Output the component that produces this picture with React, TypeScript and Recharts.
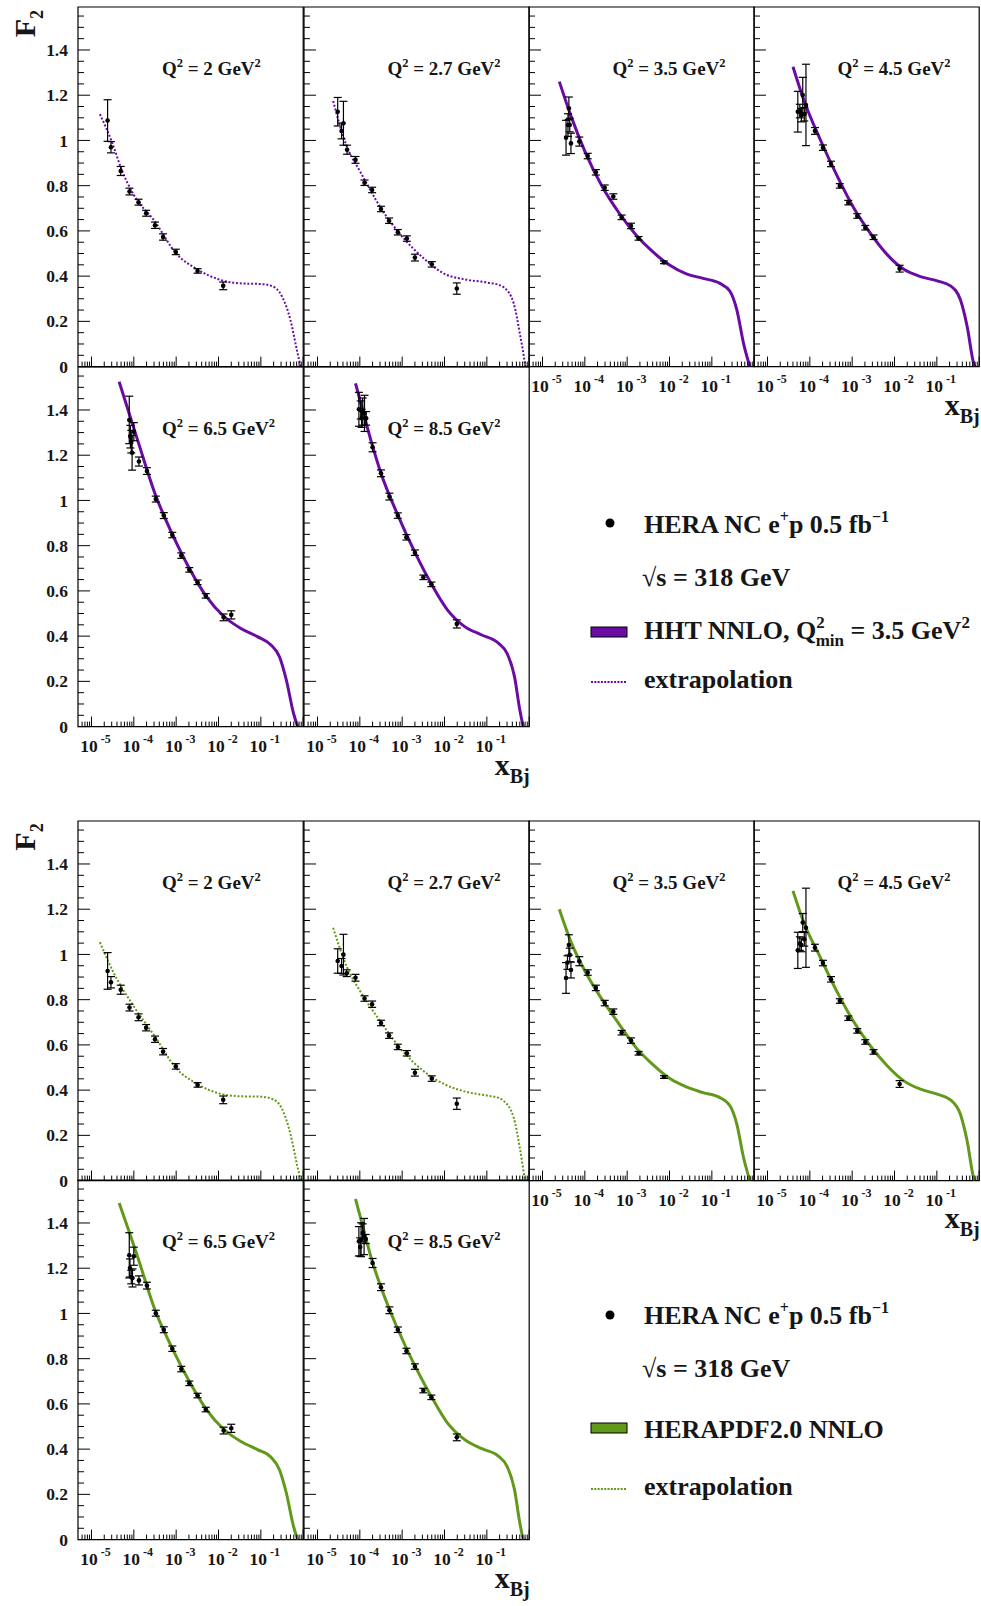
import { ComposedChart, ErrorBar, Line, ReferenceArea, Scatter, XAxis, YAxis } from "recharts";

// axis ranges
const X_MIN = 4.8e-6;
const X_MAX = 1;
const Y_MAX = 1.59;

const X_DECADES = [1e-5, 1e-4, 1e-3, 1e-2, 1e-1];
const X_DECADE_LABELS = ["-5", "-4", "-3", "-2", "-1"];
const X_MINOR_STEPS = [2, 3, 4, 5, 6, 7, 8, 9];
const X_EDGE_TICKS = [6e-6, 7e-6, 8e-6, 9e-6, 1];
const Y_MAJOR = [0, 0.2, 0.4, 0.6, 0.8, 1, 1.2, 1.4];
const Y_LABELS = ["0", "0.2", "0.4", "0.6", "0.8", "1", "1.2", "1.4"];
const Y_MINOR_OFFSETS = [0.05, 0.1, 0.15];

const Q2_LABELS = ["2", "2.7", "3.5", "4.5", "6.5", "8.5"];

// [x, F2, error] — HHT block (top)
const DATA_A_Q2_2 = [
    [2.4e-5, 1.088, 0.092], [2.88e-5, 0.97, 0.025], [4.9e-5, 0.865, 0.02], [7.9e-5, 0.774, 0.015],
    [1.29e-4, 0.727, 0.013], [1.95e-4, 0.678, 0.013], [3.16e-4, 0.625, 0.014], [4.9e-4, 0.573, 0.014],
    [9.8e-4, 0.507, 0.012], [3.2e-3, 0.423, 0.01], [1.29e-2, 0.357, 0.017],
];
const DATA_A_Q2_27 = [
    [3.0e-5, 1.127, 0.063], [3.7e-5, 1.042, 0.035], [4.1e-5, 1.076, 0.097], [5.0e-5, 0.959, 0.02],
    [7.9e-5, 0.914, 0.015], [1.29e-4, 0.813, 0.012], [1.95e-4, 0.781, 0.012], [3.16e-4, 0.697, 0.012],
    [4.9e-4, 0.645, 0.012], [7.9e-4, 0.594, 0.012], [1.29e-3, 0.566, 0.012], [2.0e-3, 0.482, 0.015],
    [5.0e-3, 0.452, 0.012], [1.95e-2, 0.345, 0.025],
];
const DATA_A_Q2_35 = [
    [3.6e-5, 1.012, 0.077], [4.0e-5, 1.068, 0.05], [4.2e-5, 1.142, 0.05], [4.4e-5, 1.068, 0.03],
    [4.7e-5, 0.987, 0.045], [7.4e-5, 0.995, 0.02], [1.17e-4, 0.931, 0.012], [1.82e-4, 0.859, 0.012],
    [2.95e-4, 0.791, 0.012], [4.7e-4, 0.752, 0.012], [7.4e-4, 0.66, 0.01], [1.23e-3, 0.622, 0.012],
    [1.86e-3, 0.567, 0.008], [7.4e-3, 0.461, 0.006],
];
const DATA_A_Q2_45 = [
    [5.2e-5, 1.127, 0.09], [5.8e-5, 1.13, 0.03], [6.3e-5, 1.112, 0.03], [6.8e-5, 1.201, 0.078],
    [7.4e-5, 1.116, 0.03], [8.1e-5, 1.157, 0.18], [1.32e-4, 1.042, 0.015], [2.04e-4, 0.968, 0.012],
    [3.16e-4, 0.896, 0.012], [5.1e-4, 0.799, 0.01], [8.1e-4, 0.725, 0.01], [1.32e-3, 0.666, 0.01],
    [2.04e-3, 0.614, 0.01], [3.2e-3, 0.572, 0.01], [1.32e-2, 0.433, 0.015],
];
const DATA_A_Q2_65 = [
    [7.8e-5, 1.356, 0.105], [8.3e-5, 1.282, 0.05], [8.7e-5, 1.26, 0.05], [9.1e-5, 1.211, 0.077],
    [1.0e-4, 1.304, 0.04], [1.32e-4, 1.172, 0.02], [2.04e-4, 1.13, 0.015], [3.3e-4, 1.006, 0.013],
    [5.1e-4, 0.933, 0.013], [8.1e-4, 0.847, 0.012], [1.32e-3, 0.756, 0.012], [2.04e-3, 0.693, 0.01],
    [3.2e-3, 0.638, 0.01], [5.0e-3, 0.578, 0.01], [1.32e-2, 0.483, 0.015], [2.0e-2, 0.494, 0.018],
];
const DATA_A_Q2_85 = [
    [9.5e-5, 1.403, 0.075], [1.05e-4, 1.4, 0.04], [1.1e-4, 1.363, 0.04], [1.17e-4, 1.393, 0.06],
    [1.29e-4, 1.385, 0.08], [1.41e-4, 1.363, 0.03], [2.0e-4, 1.235, 0.02], [3.16e-4, 1.12, 0.015],
    [5.0e-4, 1.017, 0.015], [7.9e-4, 0.933, 0.012], [1.26e-3, 0.837, 0.012], [2.0e-3, 0.769, 0.012],
    [3.16e-3, 0.66, 0.01], [4.9e-3, 0.629, 0.01], [1.95e-2, 0.454, 0.018],
];

// [x, F2, error] — HERAPDF block (bottom)
const DATA_B_Q2_2 = [
    [2.4e-5, 0.927, 0.081], [2.88e-5, 0.877, 0.025], [4.9e-5, 0.844, 0.02], [7.9e-5, 0.765, 0.015],
    [1.29e-4, 0.722, 0.015], [1.95e-4, 0.676, 0.014], [3.16e-4, 0.625, 0.014], [4.9e-4, 0.57, 0.014],
    [9.8e-4, 0.505, 0.012], [3.2e-3, 0.423, 0.01], [1.29e-2, 0.357, 0.017],
];
const DATA_B_Q2_27 = [
    [3.0e-5, 0.971, 0.054], [3.7e-5, 0.949, 0.033], [4.1e-5, 0.999, 0.09], [4.9e-5, 0.917, 0.015],
    [7.9e-5, 0.897, 0.015], [1.29e-4, 0.805, 0.012], [1.95e-4, 0.78, 0.014], [3.16e-4, 0.697, 0.012],
    [4.9e-4, 0.641, 0.012], [7.9e-4, 0.591, 0.012], [1.29e-3, 0.563, 0.012], [2.0e-3, 0.477, 0.015],
    [5.0e-3, 0.451, 0.012], [1.95e-2, 0.34, 0.025],
];
const DATA_B_Q2_35 = [
    [3.6e-5, 0.896, 0.068], [3.9e-5, 0.964, 0.03], [4.2e-5, 1.042, 0.045], [4.4e-5, 0.998, 0.03],
    [4.7e-5, 0.931, 0.035], [7.4e-5, 0.97, 0.02], [1.17e-4, 0.92, 0.012], [1.82e-4, 0.852, 0.012],
    [2.95e-4, 0.785, 0.012], [4.7e-4, 0.747, 0.012], [7.4e-4, 0.654, 0.01], [1.23e-3, 0.619, 0.012],
    [1.86e-3, 0.563, 0.008], [7.4e-3, 0.458, 0.006],
];
const DATA_B_Q2_45 = [
    [5.2e-5, 1.018, 0.08], [5.8e-5, 1.048, 0.03], [6.3e-5, 1.042, 0.03], [6.8e-5, 1.141, 0.04],
    [7.4e-5, 1.067, 0.03], [8.1e-5, 1.118, 0.175], [1.32e-4, 1.03, 0.015], [2.04e-4, 0.962, 0.012],
    [3.16e-4, 0.89, 0.012], [5.1e-4, 0.794, 0.01], [8.1e-4, 0.718, 0.01], [1.32e-3, 0.662, 0.01],
    [2.04e-3, 0.613, 0.01], [3.2e-3, 0.569, 0.01], [1.32e-2, 0.427, 0.015],
];
const DATA_B_Q2_65 = [
    [7.8e-5, 1.257, 0.1], [8.1e-5, 1.201, 0.04], [8.7e-5, 1.161, 0.03], [9.3e-5, 1.157, 0.04],
    [1.0e-4, 1.253, 0.04], [1.32e-4, 1.146, 0.02], [2.04e-4, 1.123, 0.015], [3.3e-4, 1.001, 0.013],
    [5.1e-4, 0.928, 0.013], [8.1e-4, 0.844, 0.012], [1.32e-3, 0.754, 0.012], [2.04e-3, 0.691, 0.01],
    [3.2e-3, 0.637, 0.01], [5.0e-3, 0.575, 0.01], [1.32e-2, 0.482, 0.015], [2.0e-2, 0.492, 0.018],
];
const DATA_B_Q2_85 = [
    [9.5e-5, 1.319, 0.065], [1.02e-4, 1.294, 0.04], [1.07e-4, 1.326, 0.075], [1.17e-4, 1.356, 0.04],
    [1.26e-4, 1.34, 0.08], [1.38e-4, 1.329, 0.02], [2.0e-4, 1.223, 0.02], [3.16e-4, 1.116, 0.015],
    [5.0e-4, 1.014, 0.015], [7.9e-4, 0.928, 0.012], [1.26e-3, 0.834, 0.012], [2.0e-3, 0.765, 0.012],
    [3.16e-3, 0.659, 0.01], [4.9e-3, 0.629, 0.01], [1.95e-2, 0.452, 0.015],
];

// [x, F2] — HHT NNLO curves
const HHT_Q2_2 = [
    [1.58e-5, 1.116], [3.16e-5, 0.985], [5e-5, 0.877], [1e-4, 0.759], [3.16e-4, 0.641], [1e-3, 0.5],
    [3.16e-3, 0.43], [1e-2, 0.386], [3.16e-2, 0.368], [0.1, 0.365], [0.178, 0.357], [0.316, 0.31],
    [0.5, 0.206], [0.708, 0.074], [0.87, 0],
];
const HHT_Q2_27 = [
    [2.34e-5, 1.174], [5e-5, 0.97], [1e-4, 0.865], [3.16e-4, 0.7], [1e-3, 0.575], [3.16e-3, 0.48],
    [1e-2, 0.41], [3.16e-2, 0.385], [0.1, 0.372], [0.2, 0.36], [0.25, 0.351], [0.43, 0.28],
    [0.6, 0.147], [0.79, 0.015], [0.81, 0],
];
const HHT_Q2_35 = [
    [2.5e-5, 1.26], [4.6e-5, 1.113], [1.05e-4, 0.943], [2.57e-4, 0.796], [6.5e-4, 0.678], [1.62e-3, 0.582],
    [4.0e-3, 0.508], [1e-2, 0.449], [2.5e-2, 0.41], [6.2e-2, 0.39], [0.155, 0.368], [0.27, 0.332],
    [0.39, 0.25], [0.56, 0.103], [0.79, 0],
];
const HHT_Q2_45 = [
    [4.0e-5, 1.326], [7.2e-5, 1.179], [1.78e-4, 1.002], [4.5e-4, 0.84], [1.1e-3, 0.7], [2.7e-3, 0.589],
    [6.8e-3, 0.494], [1.66e-2, 0.43], [4.1e-2, 0.398], [0.102, 0.379], [0.21, 0.357], [0.36, 0.295],
    [0.52, 0.177], [0.74, 0.015], [0.79, 0],
];
const HHT_Q2_65 = [
    [4.5e-5, 1.525], [7.9e-5, 1.38], [1.26e-4, 1.26], [3.16e-4, 1.03], [7.9e-4, 0.855], [2.04e-3, 0.7],
    [5.1e-3, 0.577], [1.29e-2, 0.49], [3.3e-2, 0.435], [8.3e-2, 0.398], [0.174, 0.361], [0.275, 0.309],
    [0.4, 0.206], [0.59, 0.059], [0.74, 0],
];
const HHT_Q2_85 = [
    [7.9e-5, 1.518], [1.15e-4, 1.404], [2.0e-4, 1.24], [3.16e-4, 1.12], [7.9e-4, 0.935], [2.0e-3, 0.77],
    [4.9e-3, 0.63], [1.17e-2, 0.516], [3.0e-2, 0.442], [7.6e-2, 0.405], [0.19, 0.368], [0.3, 0.324],
    [0.45, 0.221], [0.6, 0.074], [0.72, 0],
];

// [x, F2] — HERAPDF2.0 NNLO curves
const HERAPDF_Q2_2 = [
    [1.58e-5, 1.054], [3.16e-5, 0.928], [1e-4, 0.77], [3.16e-4, 0.637], [1e-3, 0.497], [3.16e-3, 0.427],
    [1e-2, 0.386], [3.16e-2, 0.373], [0.1, 0.371], [0.186, 0.361], [0.316, 0.317], [0.5, 0.206],
    [0.708, 0.074], [0.87, 0],
];
const HERAPDF_Q2_27 = [
    [2.34e-5, 1.118], [5e-5, 0.942], [1e-4, 0.84], [3.16e-4, 0.7], [1e-3, 0.575], [3.16e-3, 0.485],
    [1e-2, 0.426], [3.16e-2, 0.393], [0.1, 0.376], [0.2, 0.364], [0.25, 0.352], [0.43, 0.279],
    [0.6, 0.146], [0.79, 0.006], [0.8, 0],
];
const HERAPDF_Q2_35 = [
    [2.5e-5, 1.2], [4.6e-5, 1.06], [1.05e-4, 0.92], [2.57e-4, 0.8], [6.5e-4, 0.691], [1.62e-3, 0.588],
    [4.0e-3, 0.514], [1e-2, 0.452], [2.5e-2, 0.414], [6.2e-2, 0.389], [0.155, 0.367], [0.27, 0.33],
    [0.39, 0.249], [0.56, 0.102], [0.79, 0],
];
const HERAPDF_Q2_45 = [
    [4.0e-5, 1.281], [7.2e-5, 1.141], [1.78e-4, 0.986], [4.5e-4, 0.831], [1.1e-3, 0.701], [2.7e-3, 0.595],
    [6.8e-3, 0.507], [1.66e-2, 0.441], [4.1e-2, 0.404], [0.102, 0.382], [0.21, 0.357], [0.36, 0.293],
    [0.52, 0.175], [0.74, 0.013], [0.79, 0],
];
const HERAPDF_Q2_65 = [
    [4.5e-5, 1.488], [7.9e-5, 1.357], [1.26e-4, 1.244], [3.16e-4, 1.015], [7.9e-4, 0.85], [2.04e-3, 0.7],
    [5.1e-3, 0.577], [1.29e-2, 0.49], [3.3e-2, 0.435], [8.3e-2, 0.398], [0.174, 0.364], [0.275, 0.309],
    [0.4, 0.206], [0.59, 0.059], [0.74, 0],
];
const HERAPDF_Q2_85 = [
    [7.9e-5, 1.506], [1.15e-4, 1.392], [2.0e-4, 1.225], [3.16e-4, 1.116], [7.9e-4, 0.93], [2.0e-3, 0.768],
    [4.9e-3, 0.632], [1.17e-2, 0.516], [3.0e-2, 0.442], [7.6e-2, 0.402], [0.19, 0.368], [0.3, 0.324],
    [0.45, 0.221], [0.6, 0.074], [0.72, 0],
];

const PURPLE = "#6a0ca4";
const GREEN = "#62991a";
const TEXT = "#161616";
const FONT = "'Liberation Serif', 'Times New Roman', serif";

// geometry
const COLS = [78, 303.5, 528.5, 753.5];
const PW = 225.2;
const PH = 359.6;
const BLOCK_TOPS = [7.3, 820.7];
const SLOTS = [[0, 0], [1, 0], [2, 0], [3, 0], [0, 1], [1, 1]];
const ML = 50;
const MR = 10;
const MT = 10;
const MB = 40;

const X_TICKS = [
    ...X_EDGE_TICKS.slice(0, 4),
    ...X_DECADES.flatMap((d) => [d, ...X_MINOR_STEPS.map((k) => d * k)]),
    X_EDGE_TICKS[4],
];
const Y_TICKS = Y_MAJOR.flatMap((m) => [m, ...Y_MINOR_OFFSETS.map((o) => m + o)]);

function XTick(props: any) {
    const { x, payload, showLabel } = props;
    const v = payload.value;
    const idx = X_DECADES.indexOf(v);
    const major = idx >= 0 || v === 1;
    const y0 = MT + PH;
    return (
        <g>
            <line x1={x} x2={x} y1={y0} y2={y0 - (major ? 10 : 5)} stroke="#000" strokeWidth={1} />
            {showLabel && idx >= 0 && (
                <text x={x + 4} y={y0 + 25} textAnchor="middle" fontFamily={FONT} fontWeight="bold" fontSize={17.5} fill={TEXT}>
                    10
                    <tspan dx={3} dy={-9} fontSize={12}>{X_DECADE_LABELS[idx]}</tspan>
                </text>
            )}
        </g>
    );
}

function YTick(props: any) {
    const { y, payload, showLabel } = props;
    const idx = Y_MAJOR.indexOf(payload.value);
    const major = idx >= 0;
    return (
        <g>
            <line x1={ML} x2={ML + (major ? 12 : 6)} y1={y} y2={y} stroke="#000" strokeWidth={1} />
            {showLabel && major && (
                <text x={ML - 10} y={y} dy="0.35em" textAnchor="end" fontFamily={FONT} fontWeight="bold" fontSize={17.5} fill={TEXT}>
                    {Y_LABELS[idx]}
                </text>
            )}
        </g>
    );
}

function DataDot(props: any) {
    return <circle cx={props.cx} cy={props.cy} r={2.3} fill="#000" />;
}

type PanelProps = {
    left: number;
    top: number;
    points: number[][];
    curve: number[][];
    color: string;
    dotted: boolean;
    xLabels: boolean;
    yLabels: boolean;
};

function Panel({ left, top, points, curve, color, dotted, xLabels, yLabels }: PanelProps) {
    const pts = points.map(([x, y, e]) => ({ x, y, e }));
    const line = curve.map(([x, y]) => ({ x, y }));
    return (
        <div style={{ position: "absolute", left: left - ML, top: top - MT }}>
            <ComposedChart width={PW + ML + MR} height={PH + MT + MB} margin={{ top: MT, right: MR, bottom: 0, left: 0 }}>
                <XAxis
                    type="number"
                    dataKey="x"
                    scale="log"
                    domain={[X_MIN, X_MAX]}
                    allowDataOverflow
                    ticks={X_TICKS}
                    interval={0}
                    height={MB}
                    axisLine={false}
                    tickLine={false}
                    tickSize={0}
                    tickMargin={0}
                    tick={(p: any) => <XTick {...p} showLabel={xLabels} />}
                />
                <YAxis
                    type="number"
                    dataKey="y"
                    domain={[0, Y_MAX]}
                    allowDataOverflow
                    ticks={Y_TICKS}
                    interval={0}
                    width={ML}
                    axisLine={false}
                    tickLine={false}
                    tickSize={0}
                    tickMargin={0}
                    tick={(p: any) => <YTick {...p} showLabel={yLabels} />}
                />
                <ReferenceArea x1={X_MIN} x2={X_MAX} y1={0} y2={Y_MAX} fill="none" stroke="#000" strokeWidth={1.2} />
                <Line
                    data={line}
                    dataKey="y"
                    type="monotone"
                    stroke={color}
                    strokeWidth={dotted ? 2 : 3}
                    strokeDasharray={dotted ? "2 1.8" : undefined}
                    dot={false}
                    activeDot={false}
                    isAnimationActive={false}
                />
                <Scatter data={pts} dataKey="y" shape={DataDot} isAnimationActive={false}>
                    <ErrorBar dataKey="e" direction="y" width={4} stroke="#000" strokeWidth={1.2} />
                </Scatter>
            </ComposedChart>
        </div>
    );
}

const BLOCKS = [
    {
        top: BLOCK_TOPS[0],
        color: PURPLE,
        data: [DATA_A_Q2_2, DATA_A_Q2_27, DATA_A_Q2_35, DATA_A_Q2_45, DATA_A_Q2_65, DATA_A_Q2_85],
        curves: [HHT_Q2_2, HHT_Q2_27, HHT_Q2_35, HHT_Q2_45, HHT_Q2_65, HHT_Q2_85],
    },
    {
        top: BLOCK_TOPS[1],
        color: GREEN,
        data: [DATA_B_Q2_2, DATA_B_Q2_27, DATA_B_Q2_35, DATA_B_Q2_45, DATA_B_Q2_65, DATA_B_Q2_85],
        curves: [HERAPDF_Q2_2, HERAPDF_Q2_27, HERAPDF_Q2_35, HERAPDF_Q2_45, HERAPDF_Q2_65, HERAPDF_Q2_85],
    },
];

function Legend({ color, baselines, boxY, lineY, dotY, hht }: any) {
    const t = { fontFamily: FONT, fontWeight: "bold" as const, fontSize: 26, fill: TEXT };
    return (
        <g>
            <circle cx={610} cy={dotY} r={4.5} fill="#000" />
            <text x={644} y={baselines[0]} {...t}>
                HERA NC e<tspan dy={-11} fontSize={16}>+</tspan>
                <tspan dy={11}>p 0.5 fb</tspan>
                <tspan dy={-11} fontSize={16}>−1</tspan>
            </text>
            <text x={642} y={baselines[1]} {...t}>√s = 318 GeV</text>
            <rect x={591} y={boxY} width={36} height={10} fill={color} stroke="#000" strokeWidth={1} />
            {hht ? (
                <text x={644} y={baselines[2]} {...t}>
                    HHT NNLO, Q<tspan dy={-11} fontSize={17}>2</tspan>
                    <tspan dx={-9} dy={18} fontSize={17}>min</tspan>
                    <tspan dy={-7}> = 3.5 GeV</tspan>
                    <tspan dy={-11} fontSize={17}>2</tspan>
                </text>
            ) : (
                <text x={644} y={baselines[2]} {...t}>HERAPDF2.0 NNLO</text>
            )}
            <line x1={591} x2={627} y1={lineY} y2={lineY} stroke={color} strokeWidth={2} strokeDasharray="2 1.3" />
            <text x={644} y={baselines[3]} {...t}>extrapolation</text>
        </g>
    );
}

export default function App() {
    const bold = { fontFamily: FONT, fontWeight: "bold" as const, fill: TEXT };
    return (
        <div style={{ position: "absolute", left: 0, top: 0, width: 981, height: 1606, background: "#fff" }}>
            {BLOCKS.map((b, bi) =>
                SLOTS.map(([c, r], i) => (
                    <Panel
                        key={`${bi}-${i}`}
                        left={COLS[c]}
                        top={b.top + r * PH}
                        points={b.data[i]}
                        curve={b.curves[i]}
                        color={b.color}
                        dotted={i < 2}
                        xLabels={i >= 2}
                        yLabels={c === 0}
                    />
                ))
            )}
            <svg width={981} height={1606} style={{ position: "absolute", left: 0, top: 0, pointerEvents: "none" }}>
                {BLOCKS.map((b, bi) => (
                    <g key={bi}>
                        {SLOTS.map(([c, r], i) => (
                            <text key={i} x={COLS[c] + 84} y={b.top + r * PH + 68} fontSize={19} {...bold}>
                                Q<tspan dy={-8} fontSize={12.5}>2</tspan>
                                <tspan dy={8}>{` = ${Q2_LABELS[i]} GeV`}</tspan>
                                <tspan dy={-8} fontSize={12.5}>2</tspan>
                            </text>
                        ))}
                        <text transform={`translate(35,${b.top + 30}) rotate(-90)`} fontSize={30} {...bold}>
                            F<tspan dy={8} fontSize={18}>2</tspan>
                        </text>
                        <text x={COLS[3] + PW + 1} y={b.top + PH + 48} textAnchor="end" fontSize={30} {...bold}>
                            x<tspan dy={8} fontSize={20}>Bj</tspan>
                        </text>
                        <text x={COLS[1] + PW + 1} y={b.top + 2 * PH + 48} textAnchor="end" fontSize={30} {...bold}>
                            x<tspan dy={8} fontSize={20}>Bj</tspan>
                        </text>
                    </g>
                ))}
                <Legend color={PURPLE} hht baselines={[533, 586, 639, 688]} boxY={627} lineY={682} dotY={523} />
                <Legend color={GREEN} hht={false} baselines={[1324, 1377, 1438, 1495]} boxY={1423} lineY={1489} dotY={1315} />
            </svg>
        </div>
    );
}
